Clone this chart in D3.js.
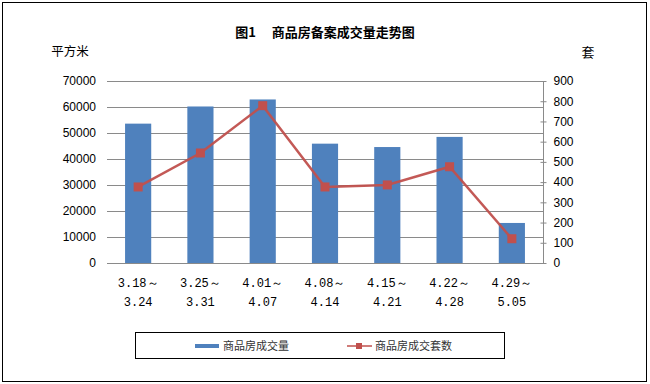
<!DOCTYPE html>
<html><head><meta charset="utf-8">
<script src="https://cdn.jsdelivr.net/npm/d3@7"></script>
<style>body{margin:0;background:#fff}svg{display:block}</style>
</head><body>
<svg id="c" width="650" height="384"></svg>
<script>
const categories = ["3.18～\n3.24","3.25～\n3.31","4.01～\n4.07","4.08～\n4.14","4.15～\n4.21","4.22～\n4.28","4.29～\n5.05"];
const areaValues = [53600, 60200, 62900, 45900, 44600, 48500, 15400];
const unitValues = [376, 544, 778, 376, 386, 476, 120];
const leftTicks = [0,10000,20000,30000,40000,50000,60000,70000];
const rightTicks = [0,100,200,300,400,500,600,700,800,900];
const seriesNames = ["商品房成交量","商品房成交套数"];
const title = "图1\u3000 商品房备案成交量走势图";

const svg = d3.select("#c");
const L = 107, R = 543, T = 81, B = 263;
const barColor = "#4F81BD", lineColor = "#C0504D";
const tickFont = "'Liberation Sans', Arial, sans-serif";
const cjk = "'Noto Sans CJK SC', sans-serif";

svg.append("rect").attr("x",2.5).attr("y",2.5).attr("width",644).attr("height",379)
  .attr("fill","#fff").attr("stroke","#000").attr("stroke-width",1);

svg.append("text").attr("x",325).attr("y",37).attr("text-anchor","middle")
  .attr("font-family",cjk).attr("font-weight","bold").attr("font-size",13).text(title);
svg.append("text").attr("x",70).attr("y",56).attr("text-anchor","middle")
  .attr("font-family",cjk).attr("font-size",12.5).text("平方米");
svg.append("text").attr("x",588).attr("y",57).attr("text-anchor","middle")
  .attr("font-family",cjk).attr("font-size",13).text("套");

const x = d3.scaleBand().domain(categories).range([L,R]).paddingInner(0.58).paddingOuter(0.29);
const yL = d3.scaleLinear().domain([0,70000]).range([B,T]);
const yR = d3.scaleLinear().domain([0,900]).range([B,T]);

// gridlines
svg.append("g").selectAll("line").data(leftTicks.slice(1)).join("line")
  .attr("x1",L).attr("x2",R).attr("y1",d=>Math.round(yL(d))+0.5).attr("y2",d=>Math.round(yL(d))+0.5)
  .attr("stroke","#8a8a8a").attr("stroke-width",1);

// left axis labels
const gl = svg.append("g").attr("transform",`translate(${L},0)`)
  .call(d3.axisLeft(yL).tickValues(leftTicks).tickFormat(d3.format("d")).tickSize(0).tickPadding(11));
gl.select(".domain").remove();
gl.selectAll("text").attr("font-family",tickFont).attr("font-size",12).attr("fill","#000");

// right axis
const gr = svg.append("g").attr("transform",`translate(${R+0.5},0)`)
  .call(d3.axisRight(yR).tickValues(rightTicks).tickFormat(d3.format("d")).tickSize(0).tickPadding(10));
gr.select(".domain").attr("stroke","#8a8a8a").attr("d",`M0,${T}V${B}`);
gr.selectAll("text").attr("font-family",tickFont).attr("font-size",12).attr("fill","#000");
gr.selectAll(".tick").append("line").attr("x1",-3).attr("x2",3).attr("stroke","#8a8a8a");

// bars
svg.append("g").selectAll("rect").data(areaValues).join("rect")
  .attr("x",(d,i)=>x(categories[i])).attr("width",x.bandwidth())
  .attr("y",d=>yL(d)).attr("height",d=>B-yL(d)).attr("fill",barColor);

// x axis line
svg.append("line").attr("x1",L).attr("x2",R).attr("y1",B+0.5).attr("y2",B+0.5).attr("stroke","#8a8a8a");

// x labels
const xl = svg.append("g").selectAll("text").data(categories).join("text")
  .attr("text-anchor","middle")
  .attr("font-family","'Liberation Mono', monospace").attr("font-size",12);
xl.each(function(d){
  const cxp = x(d)+x.bandwidth()/2;
  d3.select(this).selectAll("tspan").data(d.split("\n")).join("tspan")
    .attr("x",cxp).attr("y",(p,i)=>287+i*19).text(p=>p);
});

// line
const cx = (d,i)=>x(categories[i])+x.bandwidth()/2;
svg.append("path").datum(unitValues)
  .attr("d",d3.line().x(cx).y(d=>yR(d)))
  .attr("fill","none").attr("stroke",lineColor).attr("stroke-width",2.5).attr("stroke-opacity",0.95);
svg.append("g").selectAll("rect").data(unitValues).join("rect")
  .attr("x",(d,i)=>cx(d,i)-4.5).attr("y",d=>yR(d)-4.5).attr("width",9).attr("height",9)
  .attr("fill",lineColor);

// legend
svg.append("rect").attr("x",135.5).attr("y",332.5).attr("width",369).attr("height",26)
  .attr("fill","#fff").attr("stroke","#000");
svg.append("rect").attr("x",195).attr("y",344).attr("width",24).attr("height",4).attr("fill",barColor);
svg.append("text").attr("x",223).attr("y",350).attr("font-family",cjk).attr("font-size",11)
  .attr("fill","#333").text(seriesNames[0]);
svg.append("line").attr("x1",347).attr("x2",372).attr("y1",346).attr("y2",346).attr("stroke",lineColor).attr("stroke-width",1.5);
svg.append("rect").attr("x",356).attr("y",343).attr("width",6).attr("height",6).attr("fill",lineColor);
svg.append("text").attr("x",375).attr("y",350).attr("font-family",cjk).attr("font-size",11)
  .attr("fill","#333").text(seriesNames[1]);
</script>
</body></html>
